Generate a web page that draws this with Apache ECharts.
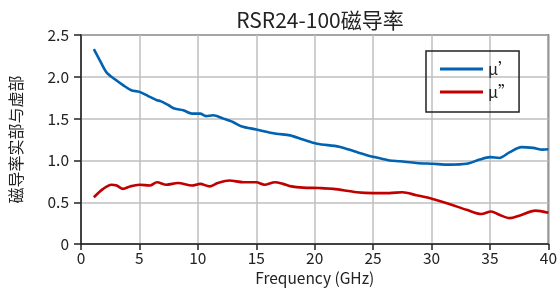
<!DOCTYPE html>
<html>
<head>
<meta charset="utf-8">
<script src="https://cdn.jsdelivr.net/npm/echarts@6/dist/echarts.min.js"></script>
<style>html,body{margin:0;padding:0;background:#fff}#c{width:560px;height:291px}</style>
</head>
<body>
<div id="c"></div>
<script>
var titleText = 'RSR24-100磁导率';
var xName = 'Frequency (GHz)';
var yName = '磁导率实部与虚部';
var seriesNames = ['μ’', 'μ”'];
var xTicks = [0, 5, 10, 15, 20, 25, 30, 35, 40];
var yTicks = [0, 0.5, 1.0, 1.5, 2.0, 2.5];

var freqReal = [1.1, 1.6, 2.2, 2.9, 3.6, 4.3, 5.0, 5.75, 6.5, 6.8, 7.5, 8.0, 8.75, 9.5, 10.2, 10.7, 11.3, 12.2, 13.0, 13.7, 15.0, 16.7, 17.9, 19.0, 20.2, 22.1, 23.6, 25.1, 26.4, 27.3, 28.7, 30.1, 31.5, 33.0, 34.1, 35.0, 35.8, 36.7, 37.7, 38.7, 39.5, 40.0];
var muReal = [2.33, 2.20, 2.05, 1.97, 1.90, 1.84, 1.82, 1.77, 1.72, 1.71, 1.66, 1.62, 1.60, 1.56, 1.56, 1.53, 1.54, 1.50, 1.46, 1.41, 1.37, 1.32, 1.30, 1.25, 1.20, 1.165, 1.10, 1.04, 1.00, 0.99, 0.97, 0.96, 0.95, 0.96, 1.01, 1.04, 1.03, 1.10, 1.16, 1.15, 1.13, 1.135];

var freqImag = [1.1, 1.9, 2.6, 3.05, 3.6, 4.2, 5.0, 5.9, 6.5, 7.3, 8.3, 9.5, 10.2, 11.0, 11.7, 12.7, 13.9, 15.0, 15.7, 16.6, 17.3, 18.0, 19.0, 20.4, 21.6, 23.6, 25.0, 26.4, 27.5, 28.7, 30.1, 31.5, 33.0, 34.25, 35.1, 35.8, 36.7, 37.5, 38.9, 40.0];
var muImag = [0.56, 0.66, 0.71, 0.70, 0.66, 0.69, 0.71, 0.70, 0.74, 0.71, 0.73, 0.70, 0.72, 0.69, 0.73, 0.76, 0.74, 0.74, 0.71, 0.74, 0.72, 0.69, 0.675, 0.67, 0.66, 0.62, 0.61, 0.61, 0.62, 0.585, 0.54, 0.48, 0.41, 0.36, 0.39, 0.35, 0.31, 0.34, 0.40, 0.375];

function pairs(xs, ys) { return xs.map(function (x, i) { return [x, ys[i]]; }); }

var font = 'Noto Sans CJK SC';
var chart = echarts.init(document.getElementById('c'), null, {renderer: 'canvas'});
chart.setOption({
  animation: false,
  backgroundColor: '#fff',
  textStyle: {fontFamily: font},
  title: {
    text: titleText, left: 315, top: 5, textAlign: 'center',
    textStyle: {fontFamily: font, fontSize: 21, fontWeight: 'normal', color: '#222'}
  },
  grid: {left: 81, right: 11, top: 35, bottom: 45, show: true, borderColor: '#222', borderWidth: 1.5, containLabel: false},
  legend: {
    orient: 'vertical', left: 426, top: 51,
    data: seriesNames,
    itemWidth: 43, itemHeight: 3, itemGap: 7,
    icon: 'rect',
    padding: [10, 5, 12, 14],
    borderColor: '#222', borderWidth: 1.5, borderRadius: 0,
    textStyle: {fontFamily: font, fontSize: 16, color: '#222', lineHeight: 16}
  },
  xAxis: {
    type: 'value', min: 0, max: 40, interval: 5,
    name: xName, nameLocation: 'middle', nameGap: 26,
    nameTextStyle: {fontFamily: font, fontSize: 15.5, color: '#222'},
    axisLine: {show: true, lineStyle: {color: '#222', width: 1.5}},
    axisTick: {show: true, length: 6, lineStyle: {color: '#222', width: 1.5}},
    axisLabel: {fontFamily: font, fontSize: 15.5, color: '#222', margin: 6},
    splitLine: {show: true, lineStyle: {color: '#bfbfbf', width: 1.5}}
  },
  yAxis: {
    type: 'value', min: 0, max: 2.5, interval: 0.5,
    name: yName, nameLocation: 'middle', nameGap: 57,
    nameTextStyle: {fontFamily: font, fontSize: 16, color: '#222'},
    axisLine: {show: true, lineStyle: {color: '#222', width: 1.5}},
    axisTick: {show: true, length: 7, lineStyle: {color: '#222', width: 1.5}},
    axisLabel: {fontFamily: font, fontSize: 15.5, color: '#222', margin: 12,
      formatter: function (v) { return v === 0 ? '0' : v.toFixed(1); }},
    splitLine: {show: true, lineStyle: {color: '#bfbfbf', width: 1.5}}
  },
  series: [
    {name: seriesNames[0], type: 'line', data: pairs(freqReal, muReal), smooth: 0.3, symbol: 'none',
      lineStyle: {color: '#0062b0', width: 2.6}, itemStyle: {color: '#0062b0'}},
    {name: seriesNames[1], type: 'line', data: pairs(freqImag, muImag), smooth: 0.3, symbol: 'none',
      lineStyle: {color: '#c00000', width: 2.6}, itemStyle: {color: '#c00000'}}
  ]
});
</script>
</body>
</html>
